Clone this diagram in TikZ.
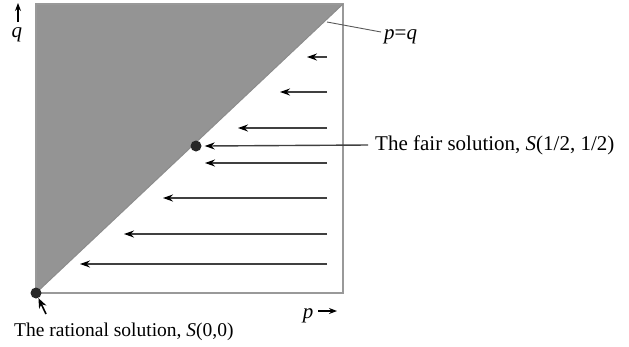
\documentclass[tikz,border=0pt]{standalone}
\usepackage{fontspec}
\setmainfont{Liberation Serif}
\usetikzlibrary{arrows.meta}
\begin{document}
\begin{tikzpicture}[x=1pt,y=-1pt,
  flow/.style={draw=black!75, line width=1.4pt, -{Stealth[length=10pt,width=7pt,color=black]}},
  axarrow/.style={draw=black, line width=1.1pt, -{Stealth[length=8pt,width=6pt]}},
  cursor/.style={draw=black, line width=1.6pt, -{Stealth[length=10pt,width=8pt]}},
  frame/.style={draw=black!40, line width=1.8pt},
  dot/.style={circle, fill=black!85, minimum size=11pt, inner sep=0pt},
  lbl/.style={font=\fontsize{21}{24}\selectfont, inner sep=0pt}]
\useasboundingbox (0,0) rectangle (629,346);
% square corners
\coordinate (BL) at (36,293);
\coordinate (TL) at (36,4);
\coordinate (TR) at (343,4);
\coordinate (BR) at (343,293);
% shaded region p<q
\fill[black!42] (BL) -- (TL) -- (TR) -- cycle;
\draw[frame] (TL) rectangle (BR);
\draw[black!45, line width=1pt] (BL) -- (TR);
% horizontal arrows
\foreach \i/\yy/\xx in {1/57/307, 2/92/280, 3/128/238, 4/163/205, 5/198/163, 6/234/124, 7/264/80}{
  \coordinate (s\i) at (327,\yy);
  \coordinate (e\i) at (\xx,\yy);
  \draw[flow] (s\i) -- (e\i);
}
% fair solution
\node[dot] (fair) at (196,146) {};
\node[lbl, anchor=base west] (fairlbl) at (375,150) {The fair solution, \textit{S}(1/2, 1/2)};
\coordinate (fairstart) at (368,145);
\draw[flow] (fairstart) -- ([xshift=3pt]fair.east);
% rational solution
\node[dot] (rat) at (BL) {};
\node[lbl, font=\fontsize{19.5}{24}\selectfont, anchor=base west] (ratlbl) at (14,336) {The rational solution, \textit{S}(0,0)};
\coordinate (ratarr) at (46,314);
\draw[cursor] (ratarr) -- (rat);
% p=q label
\node[lbl, anchor=base west] (pq) at (384,39) {\textit{p}=\textit{q}};
\coordinate (pqpt) at (327,22);
\coordinate (pqend) at (381,32);
\draw[black!65, line width=0.9pt] (pqend) -- (pqpt);
% axis labels
\node[lbl, anchor=base] (q) at (17,37) {\textit{q}};
\coordinate (qtop) at (18,3);
\coordinate (qbot) at (18,22);
\draw[axarrow] (qbot) -- (qtop);
\node[lbl, anchor=base] (p) at (308,318) {\textit{p}};
\coordinate (pbeg) at (318,311);
\coordinate (pend) at (337,311);
\draw[axarrow] (pbeg) -- (pend);
\end{tikzpicture}
\end{document}
